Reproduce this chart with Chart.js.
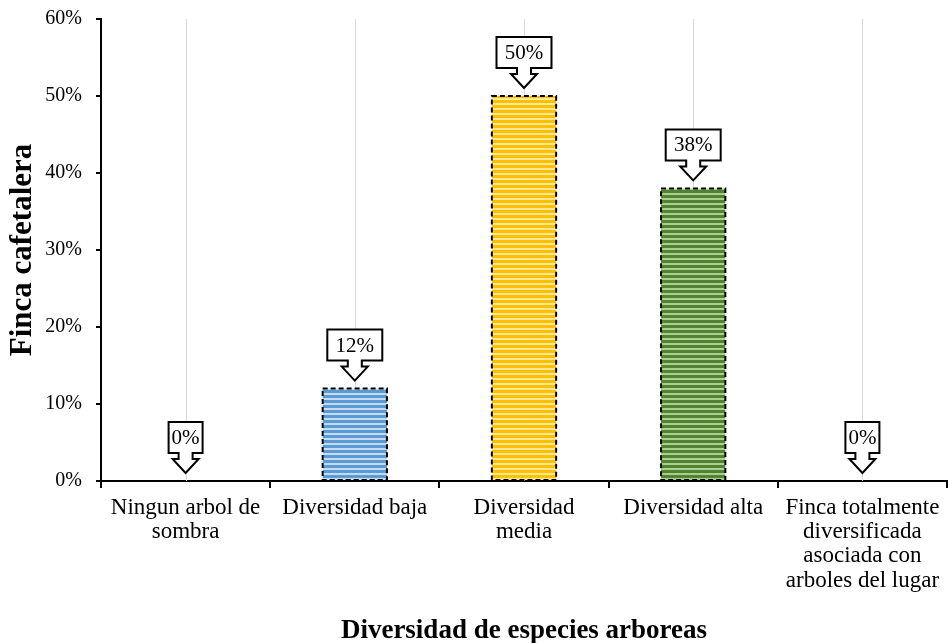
<!DOCTYPE html>
<html>
<head>
<meta charset="utf-8">
<script src="https://cdn.jsdelivr.net/npm/chart.js@4"></script>
<style>
  html, body { margin: 0; padding: 0; background: #ffffff; }
  #wrap { width: 948px; height: 643px; position: relative; }
</style>
</head>
<body>
<div id="wrap"><canvas id="chart"></canvas></div>
<script>
// Share of coffee farms by tree-species diversity level (percent)
const categories = [
  ['Ningun arbol de', 'sombra'],
  'Diversidad baja',
  ['Diversidad', 'media'],
  'Diversidad alta',
  ['Finca totalmente', 'diversificada', 'asociada con', 'arboles del lugar']
];
const shares = [0, 12, 50, 38, 0];
const yTicks = [0, 10, 20, 30, 40, 50, 60];

const SERIF = '"Liberation Serif", "Times New Roman", serif';

// Horizontal-stripe fill for each bar
function stripes(dark, light) {
  const c = document.createElement('canvas');
  c.width = 4; c.height = 5;
  const g = c.getContext('2d');
  g.fillStyle = light; g.fillRect(0, 0, 4, 5);
  g.fillStyle = dark;  g.fillRect(0, 0, 4, 3);
  return g.createPattern(c, 'repeat');
}
const fills = [
  stripes('#5b9bd5', '#c5dcf0'),
  stripes('#5b9bd5', '#c5dcf0'),
  stripes('#ffc000', '#ffe699'),
  stripes('#548235', '#a9d18e'),
  stripes('#548235', '#a9d18e')
];

// Light vertical guide lines through each category centre
const centreLines = {
  id: 'centreLines',
  beforeDatasetsDraw(chart) {
    const { ctx, chartArea, scales: { x } } = chart;
    ctx.save();
    ctx.strokeStyle = '#d9d9d9';
    ctx.lineWidth = 1;
    categories.forEach((_, i) => {
      const px = Math.round(x.getPixelForValue(i)) + 0.5;
      ctx.beginPath();
      ctx.moveTo(px, chartArea.top);
      ctx.lineTo(px, chartArea.bottom);
      ctx.stroke();
    });
    ctx.restore();
  }
};

// Dashed outline on bars plus down-arrow callouts with the value
const barDecor = {
  id: 'barDecor',
  afterDatasetsDraw(chart) {
    const { ctx } = chart;
    const meta = chart.getDatasetMeta(0);
    ctx.save();
    meta.data.forEach((bar, i) => {
      const { x, y, base, width } = bar.getProps(['x', 'y', 'base', 'width'], true);
      if (base - y > 0.5) {
        ctx.setLineDash([5, 3]);
        ctx.lineWidth = 2;
        ctx.strokeStyle = '#000';
        ctx.strokeRect(x - width / 2, y, width, base - y);
        ctx.setLineDash([]);
      }
      const text = shares[i] + '%';
      ctx.font = '21px ' + SERIF;
      const tw = ctx.measureText(text).width;
      const boxW = 2 * tw - 22;
      const boxH = 31;
      const tip = y - 8;
      const B = tip - 20;
      const T = B - boxH;
      const L = x - boxW / 2, R = x + boxW / 2;
      ctx.beginPath();
      ctx.moveTo(L, T);
      ctx.lineTo(R, T);
      ctx.lineTo(R, B);
      ctx.lineTo(x + 7, B);
      ctx.lineTo(x + 7, B + 6);
      ctx.lineTo(x + 13, B + 6);
      ctx.lineTo(x, tip);
      ctx.lineTo(x - 13, B + 6);
      ctx.lineTo(x - 7, B + 6);
      ctx.lineTo(x - 7, B);
      ctx.lineTo(L, B);
      ctx.closePath();
      ctx.fillStyle = '#fff';
      ctx.fill();
      ctx.lineWidth = 2;
      ctx.strokeStyle = '#000';
      ctx.stroke();
      ctx.fillStyle = '#000';
      ctx.textAlign = 'center';
      ctx.textBaseline = 'middle';
      ctx.fillText(text, x, (T + B) / 2 + 1);
    });
    ctx.restore();
  }
};

new Chart(document.getElementById('chart'), {
  type: 'bar',
  data: {
    labels: categories,
    datasets: [{
      data: shares,
      backgroundColor: fills,
      borderWidth: 0,
      categoryPercentage: 1,
      barPercentage: 0.38
    }]
  },
  options: {
    responsive: true,
    maintainAspectRatio: false,
    animation: false,
    layout: { padding: { top: 19, right: 1, left: 0, bottom: 0 } },
    plugins: { legend: { display: false }, tooltip: { enabled: false } },
    scales: {
      x: {
        afterFit(s) { s.height = 162; },
        grid: { drawOnChartArea: false, drawTicks: true, tickLength: 7, color: '#000', lineWidth: 2 },
        border: { display: true, color: '#000', width: 2 },
        ticks: {
          color: '#000', padding: 8, autoSkip: false, maxRotation: 0,
          font: { family: SERIF, size: 23, lineHeight: 1.05 }
        },
        title: {
          display: true, text: 'Diversidad de especies arboreas', color: '#000',
          padding: { top: 0, bottom: 0 },
          font: { family: SERIF, size: 27, weight: 'bold', lineHeight: 0.9 }
        }
      },
      y: {
        min: 0, max: 60,
        afterFit(s) { s.width = 101; },
        afterBuildTicks(s) { s.ticks = yTicks.map(v => ({ value: v })); },
        grid: { drawOnChartArea: false, drawTicks: true, tickLength: 5, color: '#000', lineWidth: 2 },
        border: { display: true, color: '#000', width: 2 },
        ticks: {
          color: '#000', padding: 14,
          font: { family: SERIF, size: 20, lineHeight: 0.3 },
          callback: v => v + '%'
        },
        title: {
          display: true, text: 'Finca cafetalera', color: '#000',
          padding: { top: 7, bottom: 0 },
          font: { family: SERIF, size: 31, weight: 'bold', lineHeight: 1 }
        }
      }
    }
  },
  plugins: [centreLines, barDecor]
});
</script>
</body>
</html>
